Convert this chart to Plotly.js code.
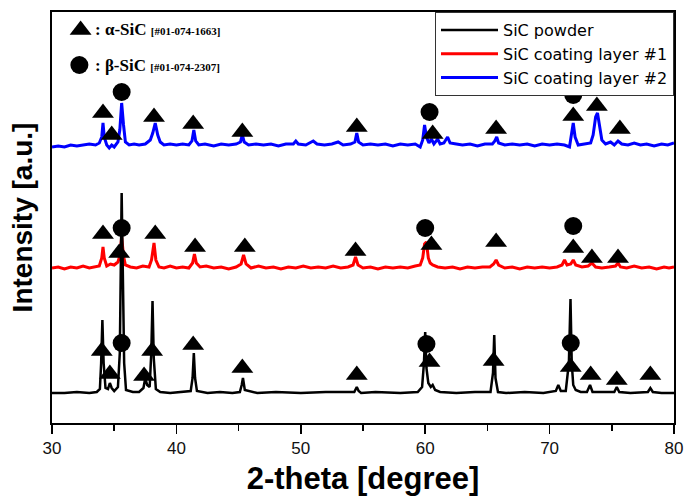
<!DOCTYPE html>
<html>
<head>
<meta charset="utf-8">
<script src="https://cdn.plot.ly/plotly-3.0.1.min.js"></script>
<style>html,body{margin:0;padding:0;background:#fff;}#chart{width:697px;height:496px;}</style>
</head>
<body>
<div id="chart"></div>
<script>
// ---- data (intensity in arbitrary units) ----
var seriesNames = ["SiC powder", "SiC coating layer #1", "SiC coating layer #2"];
var seriesOffsets = [0, 125, 248];

var powderX = [30, 31, 32, 33, 33.6, 33.85, 33.95, 34.05, 34.15, 34.3, 34.5, 34.65, 34.8, 35.0, 35.3, 35.45, 35.6, 35.7, 35.8, 35.95, 36.5, 37.0, 37.35, 37.5, 37.65, 37.85, 37.98, 38.08, 38.18, 38.35, 38.7, 39.5, 40.5, 41.15, 41.3, 41.4, 41.5, 41.65, 42.5, 43.5, 44.5, 45.1, 45.25, 45.35, 45.5, 46.5, 48, 50, 52, 54.3, 54.5, 54.65, 54.85, 56, 58, 59.4, 59.75, 59.9, 60.0, 60.1, 60.25, 60.45, 60.6, 60.8, 61.2, 62.5, 64, 65.25, 65.45, 65.55, 65.65, 65.85, 66.5, 68, 69.5, 70.5, 70.7, 70.9, 71.3, 71.55, 71.68, 71.78, 71.9, 72.1, 72.5, 73.0, 73.25, 73.45, 74.2, 75.2, 75.4, 75.6, 76.5, 77.9, 78.1, 78.3, 79, 80];
var powderY = [0, 0, 1, 0, 1, 4, 30, 73, 30, 5, 4, 10, 5, 2, 6, 40, 200, 120, 30, 3, 1, 1, 5, 15, 8, 6, 40, 92, 35, 4, 1, 0, 1, 2, 15, 40, 15, 2, 0, 1, 0, 1, 8, 15, 3, 0, 1, 0, 1, 1, 6, 2, 0, 1, 0, 1, 6, 30, 61, 25, 10, 6, 8, 3, 1, 0, 1, 1, 20, 58, 15, 1, 0, 1, 0, 2, 8, 2, 2, 30, 94, 30, 8, 3, 1, 1, 8, 1, 1, 1, 6, 1, 0, 1, 5, 1, 0, 0];

var layer1X = [30, 30.5, 31, 31.5, 32, 32.5, 33, 33.5, 33.8, 34.0, 34.1, 34.2, 34.4, 34.7, 35.0, 35.3, 35.45, 35.6, 35.75, 35.9, 36.3, 36.8, 37.3, 37.8, 38.0, 38.2, 38.35, 38.6, 39, 39.5, 40, 40.5, 41, 41.3, 41.45, 41.6, 41.9, 42.4, 43, 43.6, 44.2, 44.8, 45.2, 45.4, 45.6, 46, 46.6, 47.2, 47.8, 48.4, 49, 49.6, 50.2, 50.8, 51.4, 52, 52.6, 53.2, 53.8, 54.2, 54.4, 54.6, 55, 55.6, 56.2, 56.8, 57.4, 58, 58.6, 59.2, 59.6, 59.8, 59.95, 60.1, 60.25, 60.4, 60.6, 61, 61.6, 62.2, 62.8, 63.4, 64, 64.6, 65.2, 65.5, 65.7, 65.9, 66.4, 67, 67.6, 68.2, 68.8, 69.4, 70, 70.6, 71.0, 71.2, 71.4, 71.7, 71.9, 72.1, 72.6, 73.1, 73.4, 73.7, 74.2, 74.8, 75.3, 75.5, 75.7, 76.2, 76.8, 77.4, 78, 78.6, 79.2, 79.6, 80];
var layer1Y = [0, 1, -1, 1, 0, 2, 0, 1, 2, 10, 21, 10, 2, 4, 3, 6, 12, 31, 12, 3, 1, 0, 2, 1, 8, 25, 8, 1, 0, 2, 0, 1, 0, 5, 14, 5, 1, 2, 0, 1, -1, 1, 4, 13, 4, 0, 2, 0, 1, -1, 1, 0, 2, 0, 1, 0, 2, 0, 1, 3, 11, 3, 0, 1, -1, 1, 0, 1, 0, 2, 3, 10, 24, 26, 10, 5, 3, 1, 0, 1, -1, 1, 0, 1, 1, 4, 8, 3, 0, 1, -1, 1, 0, 1, 0, 1, 3, 8, 3, 4, 8, 3, 1, 2, 5, 1, 0, 1, 2, 5, 1, 0, 2, 0, 1, -1, 1, 0, 1];

var layer2X = [30, 30.5, 31, 31.5, 32, 32.5, 33, 33.5, 33.8, 34.0, 34.1, 34.2, 34.4, 34.6, 34.8, 35.0, 35.3, 35.45, 35.6, 35.75, 35.9, 36.2, 36.6, 37.0, 37.5, 37.9, 38.1, 38.3, 38.5, 38.7, 39.0, 39.5, 40, 40.5, 41.0, 41.25, 41.4, 41.55, 41.8, 42.3, 43, 43.6, 44.2, 44.8, 45.15, 45.3, 45.45, 45.8, 46.4, 47, 47.6, 48.2, 48.8, 49.4, 49.6, 49.8, 50.4, 51.0, 51.3, 51.9, 52.5, 53.0, 53.4, 54.0, 54.35, 54.5, 54.65, 55, 55.6, 56.2, 56.8, 57.4, 58, 58.6, 59.2, 59.6, 59.8, 59.95, 60.1, 60.3, 60.5, 60.7, 61.0, 61.2, 61.5, 61.8, 62.0, 62.5, 63, 63.6, 64.2, 64.8, 65.4, 65.6, 65.75, 65.9, 66.4, 67, 67.6, 68.2, 68.8, 69.4, 70, 70.6, 71.2, 71.6, 71.75, 71.9, 72.05, 72.3, 72.8, 73.3, 73.5, 73.7, 73.85, 74.0, 74.2, 74.5, 74.9, 75.2, 75.5, 75.8, 76.3, 76.8, 77.3, 77.8, 78.4, 79, 79.5, 80];
var layer2Y = [-2, -1, -2, 0, -1, 0, 1, 0, 2, 8, 22, 8, 0, -3, 0, -2, 3, 15, 42, 20, 3, 0, 1, 0, 1, 5, 12, 22, 10, 3, 0, 1, 0, 1, 0, 4, 15, 4, 0, 1, -1, 1, 0, 1, 3, 10, 3, 0, 1, 0, 1, -1, 1, 1, 4, 1, 0, 4, 1, 0, 1, 3, 0, 1, 3, 12, 3, 0, 1, 0, 1, -1, 1, 0, 1, -2, 5, 20, 8, 2, 6, 1, 6, 1, 2, 8, 2, 1, 0, 1, -1, 1, 1, 4, 8, 2, 0, 1, 0, 1, -1, 1, 0, 1, 0, -2, 8, 22, 8, 0, 1, 2, 10, 28, 32, 22, 5, 1, 3, 0, 4, 1, 0, 2, 0, 1, -1, 1, 0, 2];

// phase markers: 2-theta and plotted height (same units as the offset patterns)
var alphaX = [34.1, 34.8, 38.2, 41.35, 45.3, 54.5, 60.6, 65.7, 71.9, 73.8, 75.65,
              34.1, 35.4, 38.3, 41.5, 45.5, 54.4, 60.5, 65.7, 71.9, 73.4, 75.5,
              34.0, 34.65, 37.4, 38.05, 41.35, 45.3, 54.5, 60.35, 65.5, 71.7, 73.3, 75.4, 78.1];
var alphaY = [280, 258, 276, 269, 261, 266, 259, 264, 277, 287, 264,
              159, 140, 159, 146, 146, 142, 148, 151, 145, 135, 135,
              42, 19, 17, 42, 48, 25, 18, 31, 32, 26, 18, 13, 18];
var betaX = [35.6, 60.35, 71.9, 35.6, 60.0, 71.9, 35.6, 60.1, 71.7];
var betaY = [301, 281, 298, 165, 165, 167, 50, 49, 50];

var keyX = [32.3, 32.2];
var keyY = [363, 328];
var keyPhase = ["α-SiC", "β-SiC"];
var keyCard = ["[#01-074-1663]", "[#01-074-2307]"];

var xTickVals = [30, 40, 50, 60, 70, 80];

// ---- traces ----
function shifted(ys, off) { return ys.map(function (v) { return v + off; }); }
var colors = ["#000000", "#ff0000", "#0000ff"];
var xs = [powderX, layer1X, layer2X];
var ys = [powderY, layer1Y, layer2Y];
var widths = [2.5, 3, 3];
var traces = [];
[2, 1, 0].forEach(function (i) {
  traces.push({
    type: "scatter", mode: "lines", name: seriesNames[i],
    x: xs[i], y: shifted(ys[i], seriesOffsets[i]),
    line: {color: colors[i], width: widths[i]},
    legendrank: i + 1, hoverinfo: "skip"
  });
});
traces.push({type: "scatter", mode: "markers", x: alphaX, y: alphaY, showlegend: false, hoverinfo: "skip",
  marker: {symbol: "triangle-up", size: 19, color: "#000", line: {width: 0}}});
traces.push({type: "scatter", mode: "markers", x: betaX, y: betaY, showlegend: false, hoverinfo: "skip",
  marker: {symbol: "circle", size: 18, color: "#000", line: {width: 0}}});
traces.push({type: "scatter", mode: "markers", x: [keyX[0]], y: [keyY[0]], showlegend: false, hoverinfo: "skip",
  marker: {symbol: "triangle-up", size: 19, color: "#000", line: {width: 0}}});
traces.push({type: "scatter", mode: "markers", x: [keyX[1]], y: [keyY[1]], showlegend: false, hoverinfo: "skip",
  marker: {symbol: "circle", size: 18, color: "#000", line: {width: 0}}});

var annotations = keyPhase.map(function (p, i) {
  return {
    xref: "x", yref: "y", x: 33.3, y: keyY[i] + (i === 0 ? 1 : 0),
    xanchor: "left", yanchor: "middle", showarrow: false,
    text: "<b>: " + p + " <span style='font-size:11px'>" + keyCard[i] + "</span></b>",
    font: {family: "Liberation Serif, Times New Roman, serif", size: 17, color: "#000"}
  };
});

var layout = {
  width: 697, height: 496,
  margin: {l: 52, r: 23, t: 12, b: 73},
  paper_bgcolor: "#fff", plot_bgcolor: "#fff",
  showlegend: true,
  legend: {x: 1, xanchor: "right", y: 1, yanchor: "top", bgcolor: "#fff",
    bordercolor: "#333", borderwidth: 1, itemwidth: 57,
    font: {family: "DejaVu Sans, sans-serif", size: 16, color: "#000"},
    tracegroupgap: 0},
  xaxis: {
    range: [30, 80], tickvals: xTickVals, ticks: "outside", ticklen: 9, tickwidth: 1.5,
    tickcolor: "#000", showline: true, linecolor: "#000", linewidth: 2, mirror: true,
    showgrid: false, zeroline: false,
    minor: {dtick: 5, tick0: 30, ticks: "outside", ticklen: 6, tickwidth: 1.5, tickcolor: "#000", showgrid: false},
    tickfont: {family: "Liberation Sans, Arial, sans-serif", size: 17, color: "#111"},
    title: {text: "<b>2-theta [degree]</b>", standoff: 13,
      font: {family: "Liberation Sans, Arial, sans-serif", size: 31, color: "#000"}}
  },
  yaxis: {
    range: [-30, 381], showticklabels: false, ticks: "", showline: true, linecolor: "#000",
    linewidth: 2, mirror: true, showgrid: false, zeroline: false,
    title: {text: "<b>Intensity [a.u.]</b>", standoff: 9,
      font: {family: "Liberation Sans, Arial, sans-serif", size: 28, color: "#000"}}
  },
  annotations: annotations
};

Plotly.newPlot("chart", traces, layout, {displayModeBar: false, staticPlot: true});
</script>
</body>
</html>
